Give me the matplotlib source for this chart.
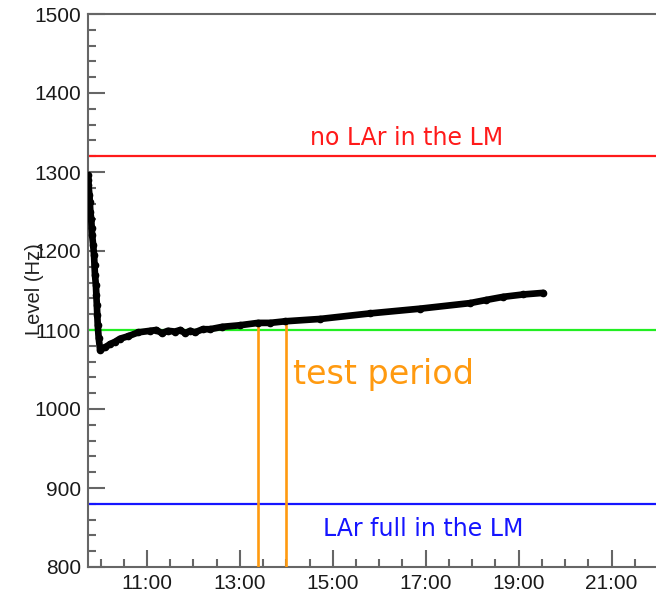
import numpy as np
import matplotlib.pyplot as plt
from matplotlib.ticker import MultipleLocator, FixedLocator

# =====================================================
# DATA (hours of day, level in Hz)
# =====================================================

time_h = [
    9.73, 9.735, 9.74, 9.76, 9.77, 9.78, 9.80, 9.81, 9.82, 9.84,
    9.86, 9.87, 9.88, 9.90, 9.91, 9.92, 9.93, 9.94, 9.96, 9.99,
    10.10, 10.20, 10.31, 10.42, 10.59, 10.81, 11.07, 11.20, 11.32,
    11.45, 11.60, 11.72, 11.82, 11.93, 12.03, 12.20, 12.36, 12.62,
    13.00, 13.39, 13.65, 13.97, 14.73, 15.80, 16.88, 17.95, 18.30,
    18.67, 19.10, 19.53
]

level_hz = [
    1296, 1290, 1284, 1271, 1262, 1250, 1240, 1229, 1220, 1208,
    1195, 1182, 1170, 1157, 1144, 1132, 1119, 1106, 1090, 1075,
    1078, 1082, 1085, 1089, 1092, 1097, 1099, 1100, 1096,
    1099, 1098, 1100, 1096, 1099, 1097, 1101, 1101, 1104,
    1106, 1109, 1109, 1111, 1114, 1121, 1127, 1134, 1138,
    1142, 1145, 1147
]

no_lar_level = 1320
ref_level = 1100
full_lar_level = 880

test_start = 13.39
test_end = 13.99
test_top = [1109, 1110.5]

x_ticks = [11, 13, 15, 17, 19, 21]
x_tick_labels = ["11:00", "13:00", "15:00", "17:00", "19:00", "21:00"]

# =====================================================
# FIGURE
# =====================================================

fig = plt.figure(figsize=(6.56, 5.95), dpi=100)

ax = fig.add_axes([88 / 656, 28 / 595, 570 / 656, 553 / 595])

ax.set_xlim(9.73, 22.0)
ax.set_ylim(800, 1500)

# reference lines
ax.axhline(no_lar_level, color="#ff1a1a", lw=1.6, zorder=2)
ax.axhline(ref_level, color="#22ee22", lw=1.6, zorder=2)
ax.axhline(full_lar_level, color="#1515ff", lw=1.6, zorder=2)

# test period markers
ax.plot([test_start, test_start], [800, test_top[0]], color="#ff9a10", lw=1.9, zorder=3)
ax.plot([test_end, test_end], [800, test_top[1]], color="#ff9a10", lw=1.9, zorder=3)

# level data
ax.plot(
    time_h,
    level_hz,
    color="black",
    lw=4.8,
    marker="o",
    markersize=4.5,
    solid_capstyle="round",
    solid_joinstyle="round",
    zorder=4
)

# =====================================================
# TEXT
# =====================================================

ax.text(16.59, 1334, "no LAr in the LM", color="#ff1a1a",
        fontsize=17, family="DejaVu Sans", ha="center", va="baseline")

ax.text(16.94, 839, "LAr full in the LM", color="#1515ff",
        fontsize=17, family="DejaVu Sans", ha="center", va="baseline")

ax.text(14.14, 1032, "test period", color="#ff9a10",
        fontsize=24, family="DejaVu Sans", ha="left", va="baseline")

fig.text(34 / 656, 1 - 289 / 595, "Level (Hz)", rotation=90,
         fontsize=14.5, family="Liberation Sans", color="#222222",
         ha="center", va="center")

# =====================================================
# AXES STYLE
# =====================================================

ax.xaxis.set_major_locator(FixedLocator(x_ticks))
ax.set_xticklabels(x_tick_labels)
ax.xaxis.set_minor_locator(MultipleLocator(0.5))

ax.yaxis.set_major_locator(MultipleLocator(100))
ax.yaxis.set_minor_locator(MultipleLocator(20))

for side in ["left", "bottom", "top", "right"]:
    ax.spines[side].set_color("#666666")
    ax.spines[side].set_linewidth(1.5)

ax.tick_params(which="both", direction="in", color="#666666", width=1.5,
               top=False, right=False)
ax.tick_params(which="major", length=12, pad=5, labelsize=15,
               labelcolor="#1a1a1a")
ax.tick_params(which="minor", length=6)

for lab in ax.get_xticklabels() + ax.get_yticklabels():
    lab.set_family("Liberation Sans")

plt.savefig("out.png", dpi=100)
plt.close()
